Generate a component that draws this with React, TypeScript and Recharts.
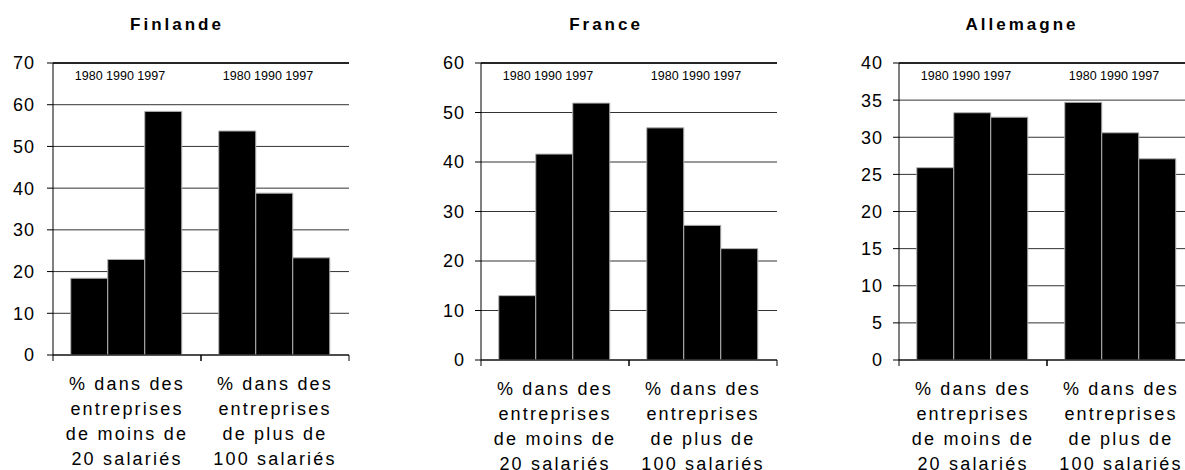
import React from 'react';
import { BarChart, Bar, XAxis, YAxis, CartesianGrid, ReferenceLine } from 'recharts';

// category labels (one entry per line of the axis label)
const categoryLines = [
    ['% dans des', 'entreprises', 'de moins de', '20 salariés'],
    ['% dans des', 'entreprises', 'de plus de', '100 salariés'],
];
const yearsLabel = '1980 1990 1997';

// values per year, one value per category
const finland1980 = [18.4, 53.7];
const finland1990 = [22.9, 38.8];
const finland1997 = [58.4, 23.3];

const france1980 = [13.0, 46.9];
const france1990 = [41.6, 27.2];
const france1997 = [51.9, 22.5];

const germany1980 = [25.9, 34.7];
const germany1990 = [33.3, 30.6];
const germany1997 = [32.7, 27.1];

const finlandTicks = [0, 10, 20, 30, 40, 50, 60, 70];
const franceTicks = [0, 10, 20, 30, 40, 50, 60];
const germanyTicks = [0, 5, 10, 15, 20, 25, 30, 35, 40];

const FONT = '"Liberation Sans", Arial, sans-serif';

function buildRows(a: number[], b: number[], c: number[]) {
    return categoryLines.map((lines, i) => ({
        name: lines.join(' '),
        v1980: a[i],
        v1990: b[i],
        v1997: c[i],
    }));
}

// bottom axis: wrapped label at the band centre, tick marks at the band edges
function BottomTick(props: any) {
    const { x, y, payload, index, width, visibleTicksCount } = props;
    const half = payload && payload.offset ? payload.offset : width / visibleTicksCount / 2;
    const lines = categoryLines[index] || [];
    return (
        <g>
            <line x1={x - half} y1={y} x2={x - half} y2={y + 6} stroke="#000" />
            <line x1={x + half} y1={y} x2={x + half} y2={y + 6} stroke="#000" />
            <text x={x} y={y + 35} textAnchor="middle" fontFamily={FONT} fontSize={18} letterSpacing={2.2} fill="#000">
                {lines.map((l: string, i: number) => (
                    <tspan key={i} x={x} dy={i === 0 ? 0 : 25}>{l}</tspan>
                ))}
            </text>
        </g>
    );
}

function YearTick(props: any) {
    const { x, y } = props;
    return (
        <text x={x - 7} y={y + 17} textAnchor="middle" fontFamily={FONT} fontSize={12.5} fill="#000">
            {yearsLabel}
        </text>
    );
}

type PanelProps = {
    title: string;
    titleCenter: number;
    left: number;
    yAxisWidth: number;
    tickMargin: number;
    axisHeight: number;
    max: number;
    ticks: number[];
    a: number[];
    b: number[];
    c: number[];
};

function Panel(p: PanelProps) {
    const data = buildRows(p.a, p.b, p.c);
    return (
        <>
            <div
                style={{
                    position: 'absolute',
                    left: p.titleCenter - 100,
                    top: 15,
                    width: 200,
                    textAlign: 'center',
                    fontFamily: FONT,
                    fontWeight: 'bold',
                    fontSize: 17,
                    letterSpacing: 3,
                    lineHeight: '20px',
                }}
            >
                {p.title}
            </div>
            <div style={{ position: 'absolute', left: p.left, top: 0 }}>
                <BarChart
                    width={360}
                    height={470}
                    data={data}
                    margin={{ top: 63, right: 360 - p.yAxisWidth - 296, bottom: 0, left: 0 }}
                    barCategoryGap="12%"
                    barGap={0}
                >
                    <CartesianGrid xAxisId="cat" vertical={false} stroke="#333" />
                    <XAxis
                        xAxisId="cat"
                        dataKey="name"
                        interval={0}
                        height={p.axisHeight}
                        tickSize={0}
                        tickMargin={0}
                        tickLine={false}
                        axisLine={{ stroke: '#000' }}
                        tick={<BottomTick />}
                    />
                    <XAxis
                        xAxisId="top"
                        dataKey="name"
                        orientation="top"
                        mirror
                        axisLine={false}
                        tickLine={false}
                        tickSize={0}
                        tickMargin={0}
                        interval={0}
                        tick={<YearTick />}
                    />
                    <YAxis
                        width={p.yAxisWidth}
                        domain={[0, p.max]}
                        ticks={p.ticks}
                        interval={0}
                        tickSize={6}
                        tickMargin={p.tickMargin}
                        axisLine={{ stroke: '#000' }}
                        tickLine={{ stroke: '#000' }}
                        tick={{ fontFamily: FONT, fontSize: 18, fill: '#000', letterSpacing: 1 }}
                    />
                    <YAxis
                        yAxisId="right"
                        orientation="right"
                        width={0}
                        domain={[0, p.max]}
                        tick={false}
                        tickLine={false}
                        axisLine={{ stroke: '#777' }}
                    />
                    <ReferenceLine xAxisId="cat" y={p.max} stroke="#000" strokeWidth={1.5} />
                    <Bar xAxisId="cat" dataKey="v1980" fill="#000" stroke="#b0b0b0" strokeWidth={1} isAnimationActive={false} />
                    <Bar xAxisId="cat" dataKey="v1990" fill="#000" stroke="#b0b0b0" strokeWidth={1} isAnimationActive={false} />
                    <Bar xAxisId="cat" dataKey="v1997" fill="#000" stroke="#b0b0b0" strokeWidth={1} isAnimationActive={false} />
                </BarChart>
            </div>
        </>
    );
}

export default function App() {
    return (
        <div
            style={{
                position: 'absolute',
                left: 0,
                top: 0,
                width: 1185,
                height: 470,
                overflow: 'hidden',
                background: '#fff',
            }}
        >
            <Panel
                title="Finlande"
                titleCenter={177}
                left={0}
                yAxisWidth={53}
                tickMargin={12}
                axisHeight={115}
                max={70}
                ticks={finlandTicks}
                a={finland1980}
                b={finland1990}
                c={finland1997}
            />
            <Panel
                title="France"
                titleCenter={606}
                left={430}
                yAxisWidth={51}
                tickMargin={10}
                axisHeight={110}
                max={60}
                ticks={franceTicks}
                a={france1980}
                b={france1990}
                c={france1997}
            />
            <Panel
                title="Allemagne"
                titleCenter={1022}
                left={850}
                yAxisWidth={49}
                tickMargin={10}
                axisHeight={110}
                max={40}
                ticks={germanyTicks}
                a={germany1980}
                b={germany1990}
                c={germany1997}
            />
        </div>
    );
}
